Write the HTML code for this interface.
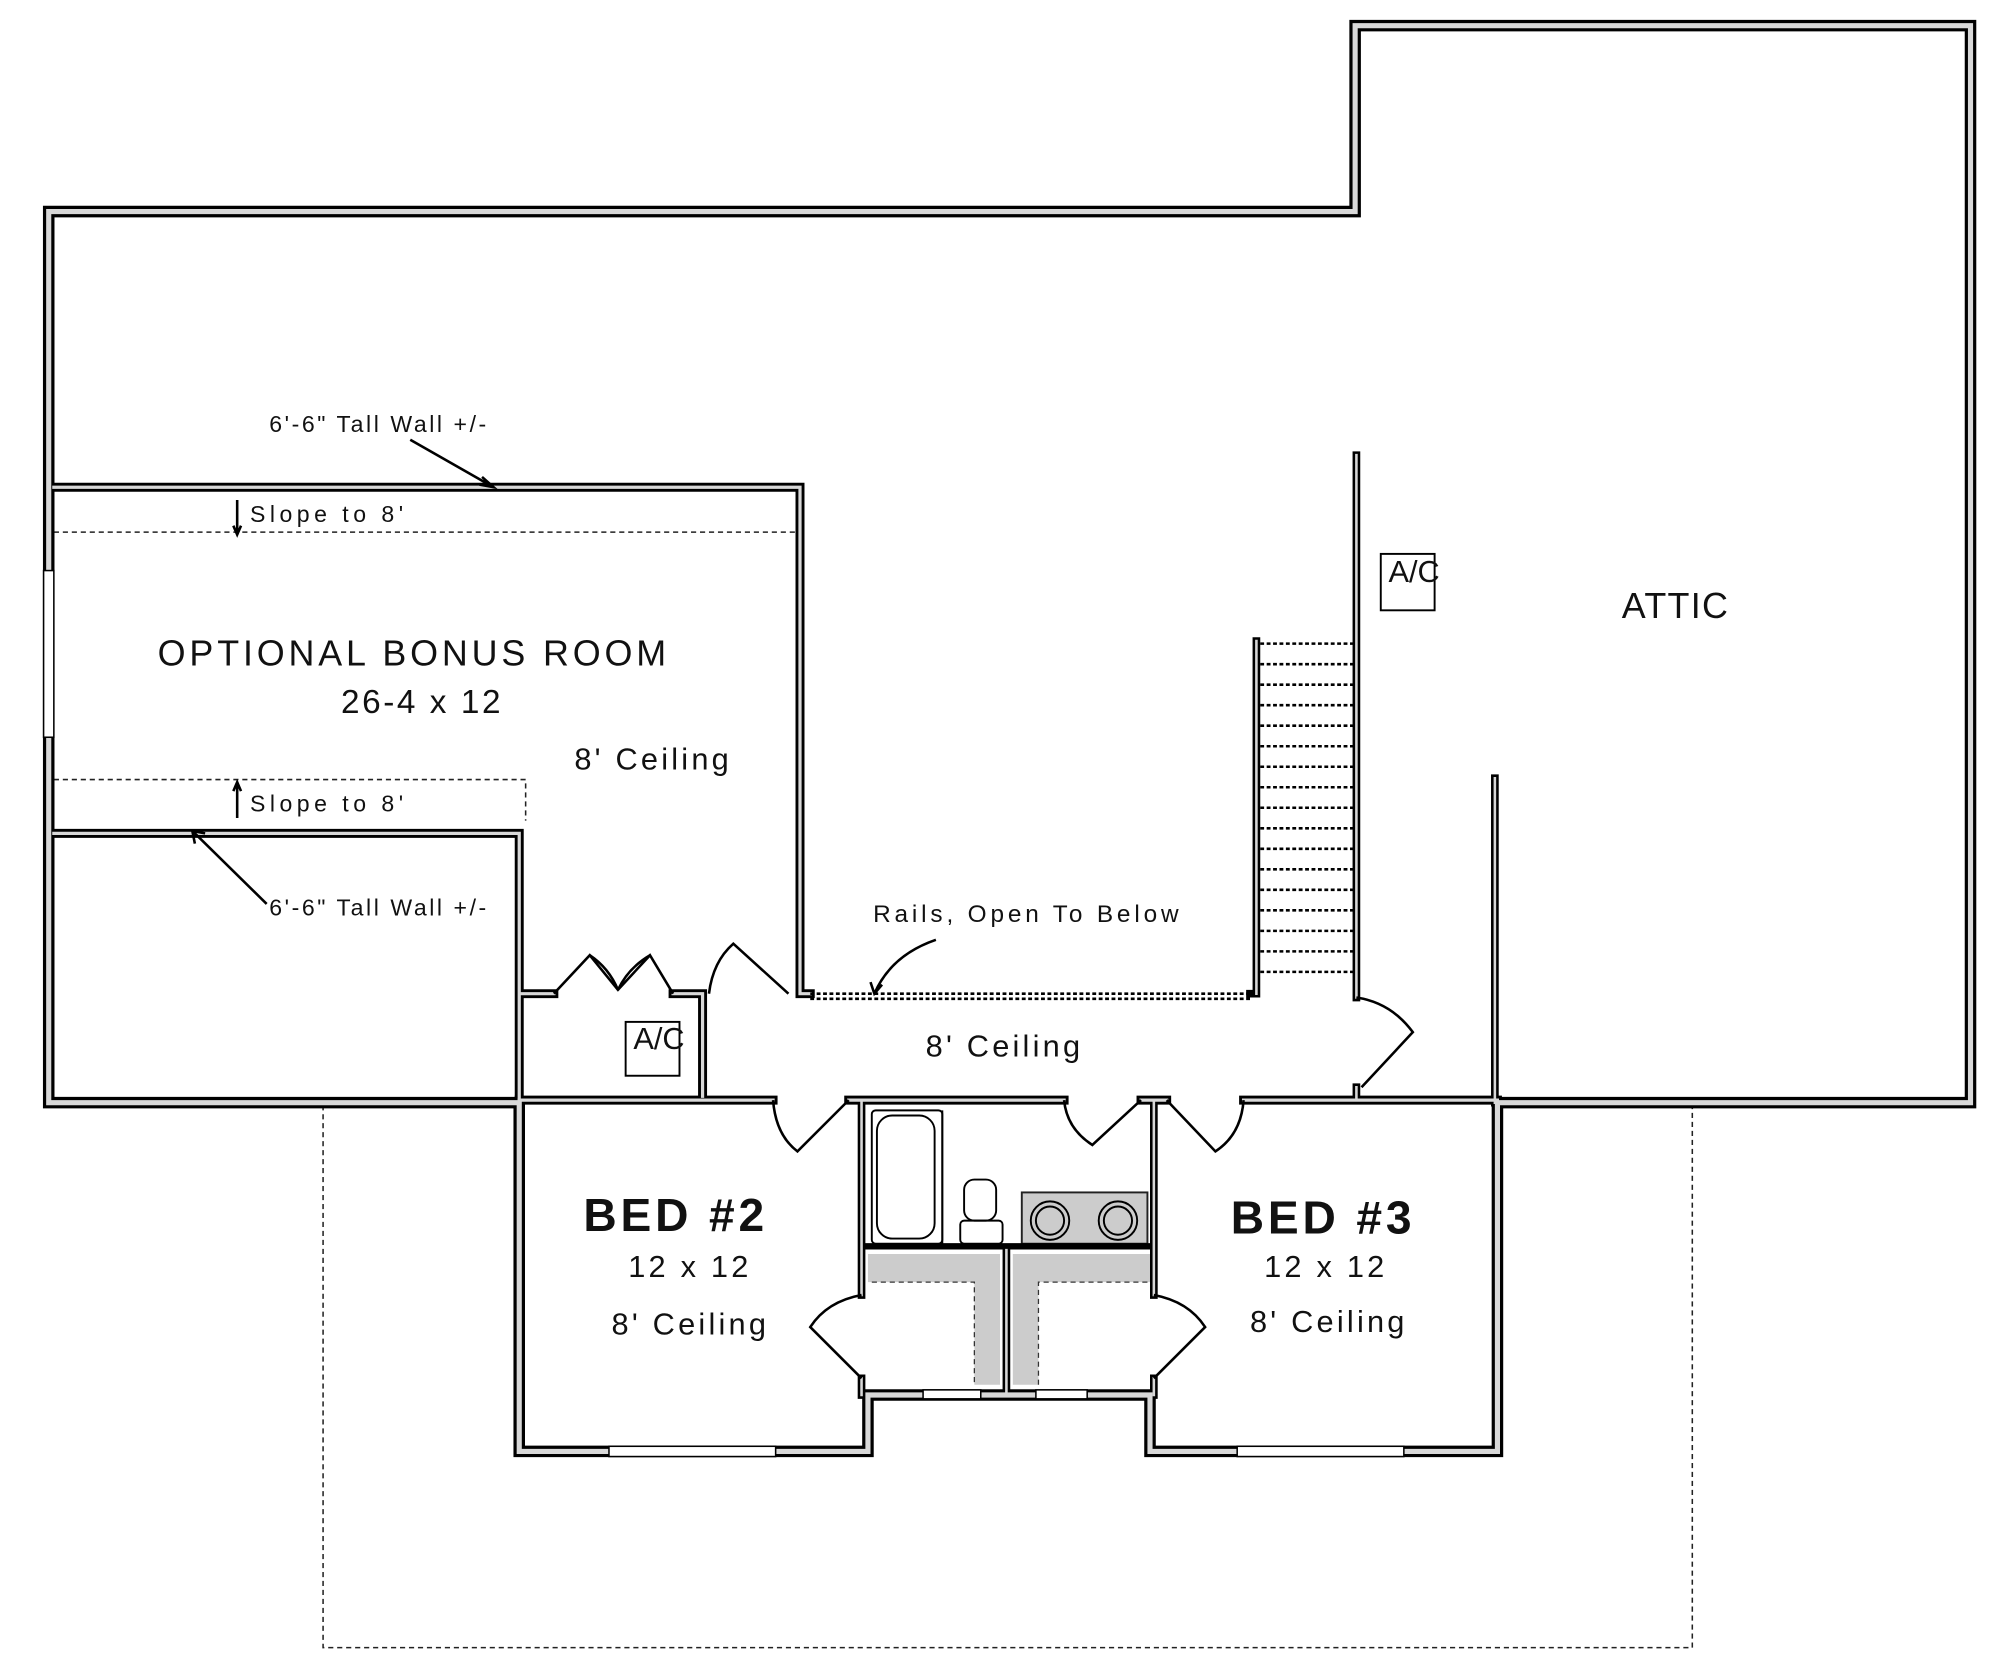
<!DOCTYPE html>
<html><head><meta charset="utf-8"><style>
html,body{margin:0;padding:0;background:#fff;}
svg{display:block;}
text{font-family:"Liberation Sans",sans-serif;fill:#111;}
</style></head><body>
<svg width="2000" height="1654" viewBox="0 0 1560 1290" preserveAspectRatio="none" xmlns="http://www.w3.org/2000/svg">
<rect width="1560" height="1290" fill="#fff"/>
<path d="M252 862 V1285 H1320 V862" fill="none" stroke="#222" stroke-width="1.2" stroke-dasharray="4 3"/>
<path d="M42 415 H620" fill="none" stroke="#222" stroke-width="1.2" stroke-dasharray="4 3"/>
<path d="M42 608 H410 V640" fill="none" stroke="#222" stroke-width="1.2" stroke-dasharray="4 3"/>
<path d="M677 978 H780 V1080 H760 V1000 H677 Z" fill="#ccc"/>
<path d="M790 978 H897 V1000 H810 V1080 H790 Z" fill="#ccc"/>
<path d="M680 1000 H760 V1080 M810 1080 V1000 H895" fill="none" stroke="#333" stroke-width="1" stroke-dasharray="4 3"/>
<rect x="797" y="930" width="98" height="40" fill="#ccc" stroke="#222" stroke-width="1.5"/>
<g fill="none" stroke-linejoin="miter" stroke-linecap="square">
<g stroke="#000">
<path stroke-width="9" d="M38 165 H1057 V20 H1537 V860 H1168 M38 165 V860 H405 V1132 H677 V1088 H897 V1132 H1168 V860"/>
<path stroke-width="7" d="M42 380 H624 V775 H632"/>
<path stroke-width="7" d="M42 650 H405 V775 H432 M525 775 H548 V855 M405 775 V860"/>
<path stroke-width="7" d="M405 858 H603 M662 858 H830 M890 858 H910 M970 858 H1168"/>
<path stroke-width="6" d="M1058 355 V778 M1058 848 V858"/>
<path stroke-width="6" d="M1166 607 V860"/>
<path stroke-width="6" d="M980 500 V775 H975"/>
<path stroke-width="6" d="M672 858 V1010 M672 1075 V1088 M900 858 V1010 M900 1075 V1088 M785 975 V1088"/>
<path stroke-width="5" d="M672 972 H900"/>
</g>
<g stroke="#d8d8d8">
<path stroke-width="4" d="M38 165 H1057 V20 H1537 V860 H1168 M38 165 V860 H405 V1132 H677 V1088 H897 V1132 H1168 V860"/>
<path stroke-width="2.5" d="M42 380 H624 V775 H632"/>
<path stroke-width="2.5" d="M42 650 H405 V775 H432 M525 775 H548 V855 M405 775 V860"/>
<path stroke-width="2.5" d="M405 858 H603 M662 858 H830 M890 858 H910 M970 858 H1168"/>
<path stroke-width="2" d="M1058 355 V778 M1058 848 V858 M1166 607 V860 M980 500 V775 M672 858 V1010 M672 1075 V1088 M900 858 V1010 M900 1075 V1088 M785 975 V1088"/>
</g>
<g stroke="#000" stroke-width="1.2" fill="#fff">
<rect x="475" y="1128" width="130" height="8"/><rect x="965" y="1128" width="130" height="8"/>
<rect x="720" y="1084" width="45" height="7"/><rect x="808" y="1084" width="40" height="7"/>
<rect x="34" y="445" width="8" height="130"/>
</g>
</g>
<g stroke="#000" stroke-width="2" stroke-dasharray="3 2">
<path d="M983 502H1056 M983 518H1056 M983 534H1056 M983 550H1056 M983 566H1056 M983 582H1056 M983 598H1056 M983 614H1056 M983 630H1056 M983 646H1056 M983 662H1056 M983 678H1056 M983 694H1056 M983 710H1056 M983 726H1056 M983 742H1056 M983 758H1056"/>
<path d="M632 775 H975 M632 779 H975"/>
</g>
<g fill="none" stroke="#000" stroke-width="2">
<path d="M432 775 L460 745 L482 772 L507 745 L525 775"/>
<path d="M482 772 Q475 755 460 745 M482 772 Q490 755 507 745"/>
<path d="M553 775 Q556 750 572 736 L615 775"/>
<path d="M603 858 Q605 885 622 898 L662 858"/>
<path d="M830 858 Q832 880 852 893 L890 858"/>
<path d="M910 858 L948 898 Q968 885 970 858"/>
<path d="M1058 778 Q1085 782 1102 805 L1062 848"/>
<path d="M672 1010 Q645 1015 632 1035 L672 1075"/>
<path d="M900 1010 Q927 1015 940 1035 L900 1075"/>
<path d="M320 343 L385 380 M376 372 L385 380 L374 378"/>
<path d="M150 648 L208 705 M150 648 L152 658 M150 648 L160 650"/>
<path d="M185 390 V417 M182 410 L185 417 L188 410"/>
<path d="M185 638 V610 M182 617 L185 610 L188 617"/>
<path d="M730 733 Q695 745 682 775 M679 766 L682 775 L688 768"/>
</g>
<g fill="none" stroke="#000" stroke-width="1.5">
<rect x="680" y="866" width="55" height="104" rx="3"/>
<path d="M735 866 V970"/>
<rect x="684" y="870" width="45" height="96" rx="12"/>
<rect x="752" y="920" width="25" height="32" rx="8"/><rect x="749" y="952" width="33" height="18" rx="3"/>
<circle cx="819" cy="952" r="15"/><circle cx="819" cy="952" r="11"/>
<circle cx="872" cy="952" r="15"/><circle cx="872" cy="952" r="11"/>
<rect x="488" y="797" width="42" height="42"/>
<rect x="1077" y="432" width="42" height="44"/>
</g>
<g font-size="18" letter-spacing="2">
<text x="210" y="337">6'-6" Tall Wall +/-</text>
<text x="210" y="714">6'-6" Tall Wall +/-</text>
<text x="195" y="407" letter-spacing="3.5">Slope to 8'</text>
<text x="195" y="633" letter-spacing="3.5">Slope to 8'</text>
<text x="681" y="719" font-size="19" letter-spacing="3">Rails, Open To Below</text>
</g>
<g font-size="24" letter-spacing="2.5">
<text x="448" y="600">8' Ceiling</text>
<text x="722" y="824">8' Ceiling</text>
<text x="477" y="1041">8' Ceiling</text>
<text x="975" y="1039">8' Ceiling</text>
<text x="490" y="996">12 x 12</text>
<text x="986" y="996">12 x 12</text>
<text x="494" y="818" letter-spacing="0">A/C</text>
<text x="1083" y="454" letter-spacing="0">A/C</text>
</g>
<text x="123" y="519" font-size="28" letter-spacing="3">OPTIONAL BONUS ROOM</text>
<text x="266" y="556" font-size="26" letter-spacing="2">26-4 x 12</text>
<text x="1265" y="482" font-size="28" letter-spacing="1">ATTIC</text>
<text x="455" y="960" font-size="36" font-weight="bold" letter-spacing="3">BED #2</text>
<text x="960" y="962" font-size="36" font-weight="bold" letter-spacing="3">BED #3</text>
</svg>
</body></html>
